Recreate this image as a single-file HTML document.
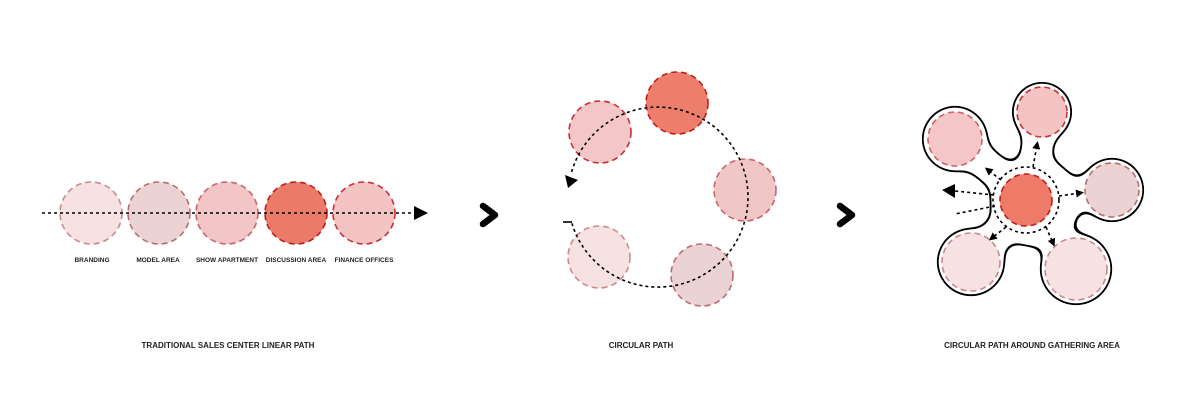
<!DOCTYPE html>
<html><head><meta charset="utf-8"><style>
html,body{margin:0;padding:0;background:#fff;}
svg{display:block;}
text{font-family:"Liberation Sans",sans-serif;font-weight:bold;fill:#222;}
</style></head><body>
<svg width="1200" height="404" viewBox="0 0 1200 404">
<defs>
<marker id="ah" markerWidth="8" markerHeight="8" refX="4" refY="4" orient="auto" markerUnits="userSpaceOnUse"><path d="M0,0 L8,4 L0,8 Z" fill="#000"/></marker>
<filter id="gooB" x="-20%" y="-20%" width="140%" height="140%">
<feGaussianBlur in="SourceGraphic" stdDeviation="7"/>
<feColorMatrix values="0 0 0 0 0  0 0 0 0 0  0 0 0 0 0  0 0 0 40 -20"/>
</filter>
<filter id="gooW" x="-20%" y="-20%" width="140%" height="140%">
<feGaussianBlur in="SourceGraphic" stdDeviation="7"/>
<feColorMatrix values="0 0 0 0 1  0 0 0 0 1  0 0 0 0 1  0 0 0 40 -20"/>
</filter>
</defs>
<!-- LINEAR -->
<g stroke-width="1.6" stroke-dasharray="6,4">
<circle cx="91" cy="213" r="31" fill="#f6e2e2" stroke="#c98a8e"/>
<circle cx="159" cy="213" r="31" fill="#ecd3d3" stroke="#b96d75"/>
<circle cx="227" cy="213" r="31" fill="#f2c5c6" stroke="#c96470"/>
<circle cx="296" cy="213" r="31" fill="#ec7a68" stroke="#c01d1d"/>
<circle cx="364" cy="213" r="31" fill="#f4c3c4" stroke="#c8303a"/>
</g>
<line x1="42" y1="213" x2="414" y2="213" stroke="#000" stroke-width="1.6" stroke-dasharray="3,3"/>
<path d="M414,206 L428,213 L414,220 Z" fill="#000"/>
<g font-size="6.5" text-anchor="middle">
<text x="92" y="262">BRANDING</text>
<text x="158" y="262">MODEL AREA</text>
<text x="227" y="262">SHOW APARTMENT</text>
<text x="296" y="262">DISCUSSION AREA</text>
<text x="364" y="262">FINANCE OFFICES</text>
</g>
<text x="228" y="348" font-size="8" text-anchor="middle">TRADITIONAL SALES CENTER LINEAR PATH</text>
<!-- chevrons -->
<path d="M483,206 L495,215 L483,224" fill="none" stroke="#000" stroke-width="6.5" stroke-linecap="round" stroke-linejoin="round"/>
<path d="M840,206 L852,215 L840,224" fill="none" stroke="#000" stroke-width="6.5" stroke-linecap="round" stroke-linejoin="round"/>
<!-- CIRCULAR -->
<g stroke-width="1.6" stroke-dasharray="6,4">
<circle cx="677" cy="103" r="31" fill="#ee7e6c" stroke="#c01d1d"/>
<circle cx="600" cy="132" r="31" fill="#f4c6c7" stroke="#c8303a"/>
<circle cx="745" cy="190" r="31" fill="#f1c6c7" stroke="#c96470"/>
<circle cx="702" cy="275" r="31" fill="#ecd3d3" stroke="#b96d75"/>
<circle cx="599" cy="257" r="31" fill="#f6e2e2" stroke="#c98a8e"/>
</g>
<path d="M571.9,223.3 A90,90 0 1 0 571.1,173.7" fill="none" stroke="#000" stroke-width="1.6" stroke-dasharray="3,3"/>
<path d="M563,222 L572,222" stroke="#000" stroke-width="1.6"/>
<path d="M565,175 L578,180 L568,188 Z" fill="#000"/>
<text x="641" y="348" font-size="8" text-anchor="middle">CIRCULAR PATH</text>
<!-- GATHERING -->
<g filter="url(#gooB)" fill="#000" stroke="#000" stroke-width="34" stroke-linecap="round">
<line x1="1030" y1="200" x2="955" y2="139"/>
<line x1="1030" y1="200" x2="1042" y2="112"/>
<line x1="1030" y1="200" x2="1112" y2="190"/>
<line x1="1030" y1="200" x2="1076" y2="269"/>
<line x1="1030" y1="200" x2="971" y2="262"/>
<circle cx="955" cy="139" r="34" stroke="none"/><circle cx="1042" cy="112" r="31" stroke="none"/><circle cx="1112" cy="190" r="33" stroke="none"/><circle cx="1076" cy="269" r="37" stroke="none"/><circle cx="971" cy="262" r="35" stroke="none"/><circle cx="1035" cy="202" r="46" stroke="none"/>
</g>
<g filter="url(#gooW)" fill="#000" stroke="#000" stroke-width="30.4" stroke-linecap="round">
<line x1="1030" y1="200" x2="955" y2="139"/>
<line x1="1030" y1="200" x2="1042" y2="112"/>
<line x1="1030" y1="200" x2="1112" y2="190"/>
<line x1="1030" y1="200" x2="1076" y2="269"/>
<line x1="1030" y1="200" x2="971" y2="262"/>
<circle cx="955" cy="139" r="32.2" stroke="none"/><circle cx="1042" cy="112" r="29.2" stroke="none"/><circle cx="1112" cy="190" r="31.2" stroke="none"/><circle cx="1076" cy="269" r="35.2" stroke="none"/><circle cx="971" cy="262" r="33.2" stroke="none"/><circle cx="1035" cy="202" r="44.2" stroke="none"/>
</g>
<g stroke-width="1.6" stroke-dasharray="6,4">
<circle cx="955" cy="139" r="27" fill="#f4c6c7" stroke="#c96470"/>
<circle cx="1042" cy="112" r="25" fill="#f4c3c4" stroke="#c8303a"/>
<circle cx="1112" cy="190" r="27" fill="#ecd3d3" stroke="#b96d75"/>
<circle cx="1076" cy="269" r="31" fill="#f6e2e2" stroke="#c98a8e"/>
<circle cx="971" cy="262" r="29" fill="#f6e2e2" stroke="#c98a8e"/>
<circle cx="1026" cy="200" r="26" fill="#ee7a68" stroke="#c01d1d"/>
</g>
<circle cx="1026" cy="200" r="33" fill="none" stroke="#000" stroke-width="1.6" stroke-dasharray="3,3"/>
<g stroke="#000" stroke-width="1.6" stroke-dasharray="3,3" marker-end="url(#ah)">
<line x1="1033" y1="167" x2="1037" y2="145"/>
<line x1="1059" y1="196" x2="1080" y2="193"/>
<line x1="1046" y1="227" x2="1053" y2="243"/>
<line x1="1006" y1="227" x2="992" y2="238"/>
<line x1="1001" y1="180" x2="988" y2="170"/>
</g>
<line x1="994" y1="195" x2="955" y2="191" stroke="#000" stroke-width="1.6" stroke-dasharray="3,3"/>
<path d="M955,184 L942,190 L955,198 Z" fill="#000"/>
<line x1="995" y1="206" x2="955" y2="214" stroke="#000" stroke-width="1.6" stroke-dasharray="3,3"/>
<text x="1032" y="348" font-size="8" text-anchor="middle">CIRCULAR PATH AROUND GATHERING AREA</text>
</svg>
</body></html>
